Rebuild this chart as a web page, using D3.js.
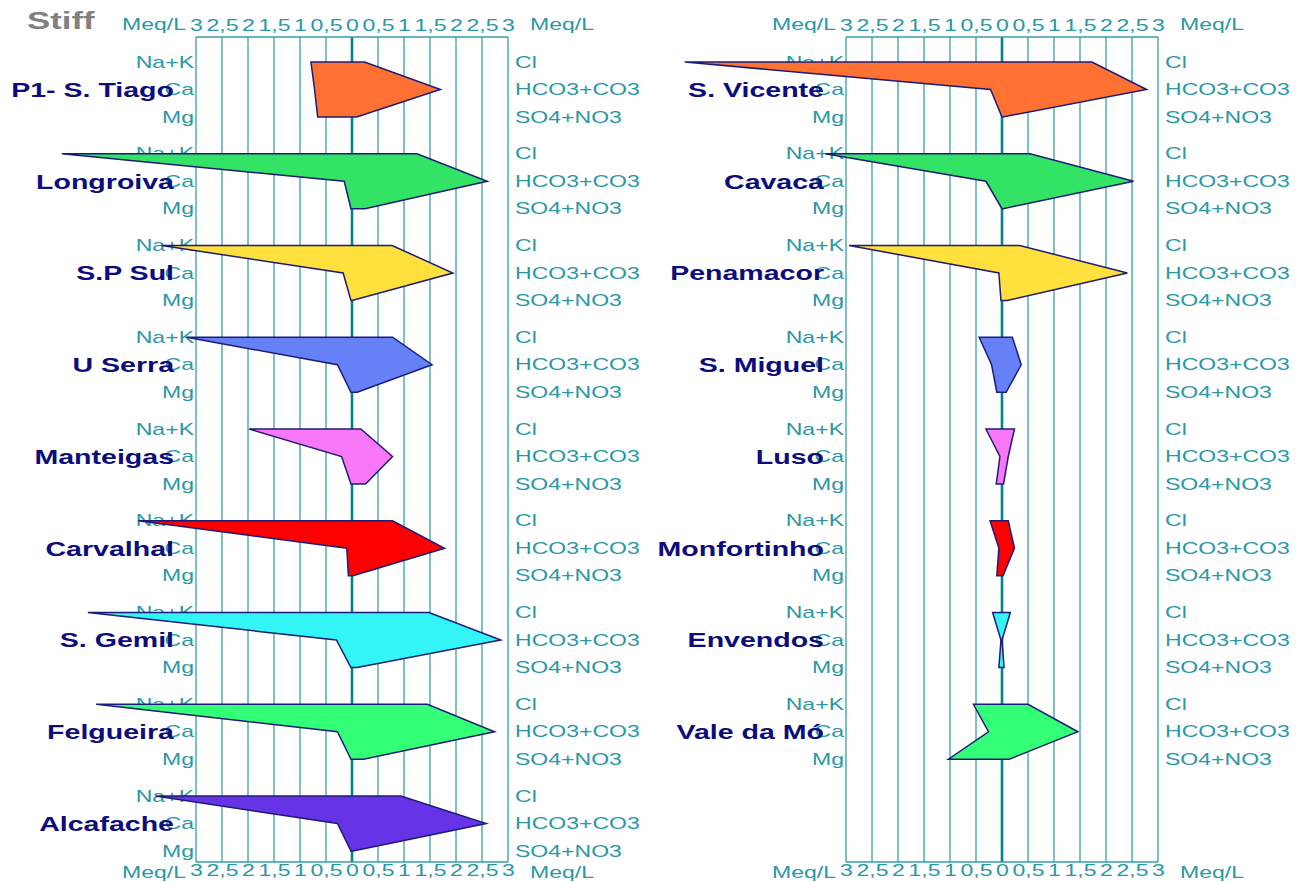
<!DOCTYPE html>
<html>
<head>
<meta charset="utf-8">
<script src="https://cdn.jsdelivr.net/npm/d3@7/dist/d3.min.js"></script>
<style>
  html, body { margin: 0; padding: 0; background: #ffffff; }
  svg { display: block; font-family: "Liberation Sans", Arial, sans-serif; }
</style>
</head>
<body>
<svg id="chart" width="1298" height="882"></svg>
<script>
// Stiff diagrams, concentrations in meq/L
const tickValues = [-3, -2.5, -2, -1.5, -1, -0.5, 0, 0.5, 1, 1.5, 2, 2.5, 3];
const cationLabels = ["Na+K", "Ca", "Mg"];
const anionLabels = ["Cl", "HCO3+CO3", "SO4+NO3"];
const unitLabel = "Meq/L";

// left column
const leftStations = ["P1- S. Tiago", "Longroiva", "S.P Sul", "U Serra", "Manteigas", "Carvalhal", "S. Gemil", "Felgueira", "Alcafache"];
const leftNaK  = [0.79, 5.58, 3.66, 3.18, 1.98, 4.11, 5.08, 4.92, 3.78];
const leftCa   = [0.72, 0.15, 0.17, 0.28, 0.20, 0.10, 0.30, 0.28, 0.28];
const leftMg   = [0.66, 0.02, 0.02, 0.02, 0.02, 0.07, 0.02, 0.02, 0.02];
const leftCl   = [0.24, 1.25, 0.77, 0.78, 0.17, 0.78, 1.48, 1.45, 0.94];
const leftHCO3 = [1.70, 2.60, 1.94, 1.54, 0.78, 1.78, 2.86, 2.74, 2.58];
const leftSO4  = [0.09, 0.25, 0.00, 0.10, 0.26, 0.02, 0.10, 0.22, 0.02];
const leftColors = ["#ff7033", "#33e366", "#ffe03c", "#6680f8", "#f878f8", "#ff0000", "#33f5f5", "#33ff77", "#6633e6"];

// right column
const rightStations = ["S. Vicente", "Cavaca", "Penamacor", "S. Miguel", "Luso", "Monfortinho", "Envendos", "Vale da Mó"];
const rightNaK  = [6.10, 3.40, 2.94, 0.44, 0.31, 0.23, 0.18, 0.55];
const rightCa   = [0.22, 0.31, 0.06, 0.20, 0.04, 0.06, 0.02, 0.26];
const rightMg   = [0.00, 0.00, 0.02, 0.10, 0.11, 0.10, 0.06, 1.03];
const rightCl   = [1.73, 0.54, 0.34, 0.20, 0.24, 0.12, 0.16, 0.50];
const rightHCO3 = [2.78, 2.53, 2.41, 0.37, 0.12, 0.24, 0.00, 1.46];
const rightSO4  = [0.01, 0.02, 0.10, 0.08, 0.03, 0.02, 0.04, 0.14];
const rightColors = ["#ff7033", "#33e366", "#ffe03c", "#6680f8", "#f878f8", "#ff0000", "#33f5f5", "#33ff77"];

const svg = d3.select("#chart");
const teal = "#3a9ea6";
const tealText = "#2a98a4";
const navy = "#0c0c7c";
const boxTop = 37, boxBottom = 862;
const SX = 1.44; // horizontal glyph stretch
const LABEL_SIZE = 16;

function addText(g, x, y, str, o) {
  const t = g.append("g").attr("transform", `translate(${x},${y})`)
    .append("text")
    .attr("transform", `scale(${o.sx || SX},1)`)
    .attr("dy", o.dy || "0.35em")
    .attr("text-anchor", o.anchor || "start")
    .attr("font-size", o.size || LABEL_SIZE)
    .attr("font-weight", o.weight || "normal")
    .attr("fill", o.fill || tealText)
    .text(str);
  return t;
}

// title
addText(svg, 27, 29, "Stiff", { size: 24, weight: "bold", fill: "#808080", dy: "0", sx: 1.45 });

// vertical slots shared by both columns
const slotY = d3.scalePoint().domain(d3.range(9)).range([62, 796]);
const ionY = d3.scalePoint().domain([0, 1, 2]).range([0, 55]);

function drawPanel(x0, x1, names, naK, ca, mg, cl, hco3, so4, colors) {
  const x = d3.scaleLinear().domain([-3, 3]).range([x0, x1]);
  const g = svg.append("g");
  const fmt = d => String(Math.abs(d)).replace(".", ",");

  // grid
  g.append("g").selectAll("line").data(tickValues).join("line")
    .attr("x1", d => x(d)).attr("x2", d => x(d))
    .attr("y1", boxTop).attr("y2", boxBottom)
    .attr("stroke", d => d === 0 ? "#00858f" : teal)
    .attr("stroke-width", d => d === 0 ? 2.6 : 1.3);
  [boxTop, boxBottom].forEach(yy => {
    g.append("line").attr("x1", x0).attr("x2", x1).attr("y1", yy).attr("y2", yy)
      .attr("stroke", teal).attr("stroke-width", 1.3);
  });

  // scale labels, top and bottom
  const axTop = d3.axisTop(x).tickValues(tickValues).tickSize(0).tickPadding(6).tickFormat(fmt);
  const axBot = d3.axisBottom(x).tickValues(tickValues).tickSize(0).tickPadding(3).tickFormat(fmt);
  [[axTop, boxTop], [axBot, boxBottom]].forEach(([ax, yy]) => {
    const a = g.append("g").attr("transform", `translate(0,${yy})`).call(ax);
    a.select(".domain").remove();
    a.selectAll("text")
      .attr("font-family", "Liberation Sans, Arial, sans-serif")
      .attr("font-size", LABEL_SIZE).attr("fill", tealText)
      .attr("transform", `scale(${SX},1)`);
  });
  addText(g, x0 - 10, 24, unitLabel, { anchor: "end" });
  addText(g, x1 + 22, 24, unitLabel, {});
  addText(g, x0 - 10, 872, unitLabel, { anchor: "end" });
  addText(g, x1 + 22, 872, unitLabel, {});

  // ion labels
  names.forEach((n, i) => {
    cationLabels.forEach((lab, k) => addText(g, x0 - 2, slotY(i) + ionY(k), lab, { anchor: "end" }));
    anionLabels.forEach((lab, k) => addText(g, x1 + 7, slotY(i) + ionY(k), lab, {}));
  });

  // stiff polygons
  const line = d3.line();
  g.append("g").selectAll("path").data(names).join("path")
    .attr("d", (n, i) => {
      const y = slotY(i);
      return line([
        [x(-naK[i]), y + ionY(0)],
        [x(-ca[i]), y + ionY(1)],
        [x(-mg[i]), y + ionY(2)],
        [x(so4[i]), y + ionY(2)],
        [x(hco3[i]), y + ionY(1)],
        [x(cl[i]), y + ionY(0)]
      ]) + "Z";
    })
    .attr("fill", (n, i) => colors[i])
    .attr("stroke", "#1c1c78")
    .attr("stroke-width", 1.5)
    .attr("stroke-linejoin", "miter");

  // station names
  names.forEach((n, i) => addText(g, x0 - 22, slotY(i) + ionY(1), n,
    { anchor: "end", size: 21, weight: "bold", fill: navy, sx: 1.36 }));
}

drawPanel(196, 508, leftStations, leftNaK, leftCa, leftMg, leftCl, leftHCO3, leftSO4, leftColors);
drawPanel(846, 1158, rightStations, rightNaK, rightCa, rightMg, rightCl, rightHCO3, rightSO4, rightColors);
</script>
</body>
</html>
